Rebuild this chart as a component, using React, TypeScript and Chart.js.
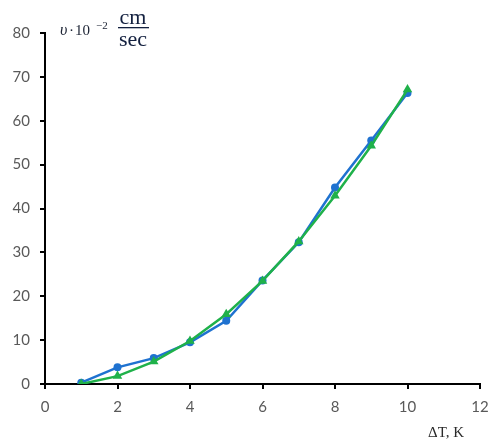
import React, { useEffect, useRef } from "react";
import { Chart, registerables } from "chart.js";

Chart.register(...registerables);

const xValues = [1, 2, 3, 4, 5, 6, 7, 8, 9, 10];
const blueSeries = [0.3, 3.8, 5.9, 9.5, 14.4, 23.6, 32.3, 44.8, 55.5, 66.3];
const greenSeries = [0, 1.8, 5.1, 9.8, 15.9, 23.5, 32.5, 42.9, 54.3, 67.1];
const xTicks = [0, 2, 4, 6, 8, 10, 12];
const yTicks = [0, 10, 20, 30, 40, 50, 60, 70, 80];

const BLUE = "#1f72d0";
const GREEN = "#1fb14a";

const textPlugin = {
  id: "labels",
  afterDraw(chart: any) {
    const ctx = chart.ctx as CanvasRenderingContext2D;
    ctx.save();
    ctx.textBaseline = "alphabetic";
    ctx.textAlign = "left";
    // y-axis label
    ctx.fillStyle = "#1b2233";
    ctx.font = "italic 16px 'Liberation Serif', 'DejaVu Serif', serif";
    ctx.fillText("\u03C5", 60, 35);
    ctx.font = "15px 'Liberation Serif', serif";
    ctx.fillText("\u00B7", 69, 35);
    ctx.fillText("10", 75, 35);
    ctx.font = "11px 'Liberation Serif', serif";
    ctx.fillText("\u22122", 96, 29);
    ctx.fillStyle = "#13203f";
    ctx.font = "22px 'Liberation Serif', serif";
    ctx.textAlign = "center";
    ctx.fillText("cm", 133, 24);
    ctx.fillText("sec", 133, 46);
    ctx.fillRect(118, 27, 31, 1.3);
    // x-axis label
    ctx.fillStyle = "#2a2a2a";
    ctx.font = "15px 'Liberation Serif', serif";
    ctx.textAlign = "left";
    ctx.fillText("\u0394T, K", 428, 437);
    ctx.restore();
  },
};

export default function App() {
  const ref = useRef<HTMLCanvasElement | null>(null);
  useEffect(() => {
    if (!ref.current) return;
    const chart = new Chart(ref.current, {
      type: "line",
      data: {
        datasets: [
          {
            label: "green",
            data: xValues.map((x, i) => ({ x, y: greenSeries[i] })),
            borderColor: GREEN,
            backgroundColor: GREEN,
            borderWidth: 2.5,
            pointStyle: "triangle",
            pointRadius: 5.5,
            pointBorderWidth: 0,
            tension: 0,
            order: 0,
          },
          {
            label: "blue",
            data: xValues.map((x, i) => ({ x, y: blueSeries[i] })),
            borderColor: BLUE,
            backgroundColor: BLUE,
            borderWidth: 2.5,
            pointStyle: "circle",
            pointRadius: 4,
            pointBorderWidth: 0,
            tension: 0,
            order: 1,
          },
        ],
      },
      options: {
        animation: false,
        responsive: false,
        maintainAspectRatio: false,
        layout: { padding: { top: 33, right: 10, left: 0, bottom: 0 } },
        plugins: { legend: { display: false }, tooltip: { enabled: false } },
        scales: {
          x: {
            type: "linear",
            min: 0,
            max: 12,
            afterBuildTicks: (s: any) => {
              s.ticks = xTicks.map((v) => ({ value: v }));
            },
            afterFit: (s: any) => {
              s.height = 55;
              s.paddingRight = 0;
              s.paddingLeft = 0;
            },
            border: { color: "#000", width: 2 },
            grid: { drawOnChartArea: false, color: "#000", lineWidth: 2, tickLength: 5 },
            ticks: {
              color: "#595959",
              padding: 9,
              font: { family: "Lato, 'Open Sans', sans-serif", size: 15 },
              maxRotation: 0,
            },
          },
          y: {
            type: "linear",
            min: 0,
            max: 80,
            afterBuildTicks: (s: any) => {
              s.ticks = yTicks.map((v) => ({ value: v }));
            },
            afterFit: (s: any) => {
              s.width = 45;
            },
            border: { color: "#000", width: 2 },
            grid: { drawOnChartArea: false, color: "#000", lineWidth: 2, tickLength: 5 },
            ticks: {
              color: "#595959",
              padding: 10,
              font: { family: "Lato, 'Open Sans', sans-serif", size: 15 },
            },
          },
        },
      },
      plugins: [textPlugin],
    });
    return () => chart.destroy();
  }, []);
  return (
    <div style={{ position: "fixed", left: 0, top: 0, width: 490, height: 439, background: "#fff" }}>
      <canvas ref={ref} width={490} height={439} style={{ width: 490, height: 439 }} />
    </div>
  );
}
